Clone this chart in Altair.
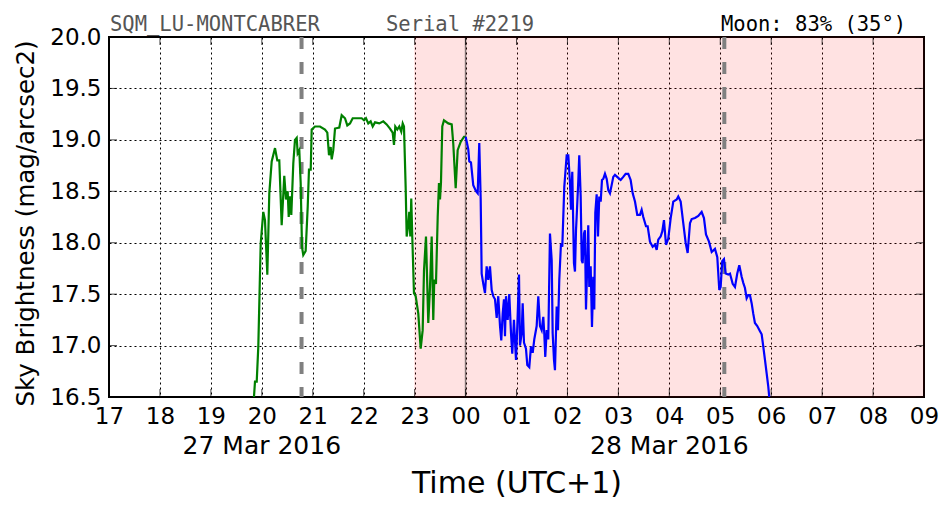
import altair as alt
import pandas as pd

# ---------------- data (hours after 17:00 on 27 Mar 2016, UTC+1) ----------------
hour_ticks = list(range(0, 17))
y_ticks = [16.5, 17.0, 17.5, 18.0, 18.5, 19.0, 19.5, 20.0]

green_h = [2.846, 2.866, 2.900, 2.931, 2.978, 3.029, 3.062, 3.108, 3.147, 3.194, 3.259, 3.304,
           3.343, 3.390, 3.441, 3.475, 3.508, 3.528, 3.553, 3.579, 3.618, 3.651, 3.685, 3.704,
           3.736, 3.763, 3.789, 3.814, 3.861, 3.901, 3.926, 3.960, 3.979, 4.044, 4.142, 4.240,
           4.286, 4.319, 4.352, 4.372, 4.403, 4.437, 4.521, 4.568, 4.633, 4.678, 4.731, 4.784,
           4.863, 4.961, 5.006, 5.045, 5.090, 5.137, 5.177, 5.222, 5.306, 5.385, 5.451, 5.516,
           5.569, 5.595, 5.620, 5.660, 5.699, 5.738, 5.766, 5.791, 5.824, 5.844, 5.876, 5.895,
           5.915, 5.934, 5.954, 5.987, 6.021, 6.072, 6.119, 6.158, 6.184, 6.223, 6.268, 6.302,
           6.335, 6.366, 6.386, 6.419, 6.453, 6.478, 6.498, 6.517, 6.543, 6.576, 6.661, 6.728,
           6.759, 6.806, 6.845, 6.904, 6.969, 7.002]
green_v = [16.50, 16.65, 16.65, 16.99, 17.99, 18.30, 18.22, 17.69, 18.48, 18.79, 18.92, 18.80,
           18.80, 18.17, 18.65, 18.42, 18.50, 18.25, 18.45, 18.27, 18.77, 19.00, 19.02, 18.87,
           18.90, 18.58, 17.96, 17.88, 17.92, 18.35, 18.71, 18.71, 19.10, 19.13, 19.13, 19.10,
           19.07, 18.85, 18.93, 18.81, 18.90, 19.11, 19.12, 19.24, 19.21, 19.14, 19.16, 19.21,
           19.21, 19.21, 19.19, 19.21, 19.16, 19.18, 19.13, 19.17, 19.16, 19.18, 19.15, 19.11,
           19.07, 18.95, 19.13, 19.10, 19.13, 19.08, 19.16, 19.13, 18.54, 18.06, 18.18, 18.30,
           18.06, 18.43, 18.06, 17.51, 17.48, 17.31, 16.97, 17.15, 17.73, 18.06, 17.22, 17.57,
           18.06, 17.25, 17.64, 17.60, 18.25, 18.58, 18.42, 18.58, 19.13, 19.19, 19.16, 19.15,
           18.96, 18.53, 18.90, 18.98, 19.03, 19.03]

blue_h = [7.002, 7.053, 7.073, 7.106, 7.151, 7.205, 7.238, 7.269, 7.297, 7.316, 7.348, 7.381,
          7.414, 7.446, 7.479, 7.513, 7.544, 7.578, 7.611, 7.642, 7.676, 7.701, 7.729, 7.754,
          7.774, 7.794, 7.827, 7.858, 7.892, 7.917, 7.950, 7.990, 8.016, 8.049, 8.068, 8.102,
          8.121, 8.147, 8.186, 8.212, 8.251, 8.284, 8.318, 8.349, 8.396, 8.428, 8.461, 8.494,
          8.526, 8.545, 8.565, 8.593, 8.624, 8.657, 8.691, 8.710, 8.736, 8.755, 8.789, 8.814,
          8.840, 8.873, 8.899, 8.938, 8.985, 9.017, 9.050, 9.070, 9.095, 9.128, 9.148, 9.168,
          9.181, 9.213, 9.232, 9.260, 9.280, 9.299, 9.325, 9.344, 9.364, 9.390, 9.409, 9.429,
          9.456, 9.482, 9.507, 9.527, 9.547, 9.574, 9.600, 9.625, 9.653, 9.678, 9.704, 9.737,
          9.771, 9.802, 9.835, 9.868, 9.900, 9.933, 9.998, 10.045, 10.096, 10.143, 10.194,
          10.241, 10.281, 10.326, 10.371, 10.424, 10.457, 10.489, 10.542, 10.575, 10.620,
          10.673, 10.718, 10.752, 10.783, 10.830, 10.862, 10.895, 10.935, 10.980, 11.027,
          11.078, 11.145, 11.176, 11.223, 11.274, 11.321, 11.360, 11.406, 11.439, 11.504,
          11.569, 11.635, 11.680, 11.720, 11.779, 11.832, 11.896, 11.942, 11.981, 12.008,
          12.039, 12.073, 12.106, 12.157, 12.191, 12.244, 12.289, 12.334, 12.374, 12.420,
          12.452, 12.485, 12.518, 12.549, 12.583, 12.617, 12.648, 12.681, 12.727, 12.780,
          12.813, 12.845, 12.878, 12.911, 12.943, 12.962]
blue_v = [19.03, 18.91, 18.79, 18.78, 18.56, 18.50, 18.48, 18.97, 18.42, 17.70, 17.60, 17.51,
          17.77, 17.64, 17.77, 17.54, 17.48, 17.45, 17.27, 17.48, 17.19, 17.05, 17.31, 17.45,
          17.09, 17.48, 17.25, 17.50, 17.12, 16.92, 17.25, 16.86, 17.19, 17.69, 17.00, 17.12,
          17.41, 17.03, 16.97, 16.81, 16.79, 16.99, 16.93, 17.06, 17.19, 17.48, 17.19, 17.15,
          17.28, 17.12, 16.89, 17.15, 17.06, 18.09, 17.83, 17.12, 16.86, 16.76, 17.38, 17.15,
          17.64, 17.99, 17.96, 18.54, 18.85, 18.85, 18.58, 18.32, 18.69, 17.80, 17.72, 18.12,
          18.25, 18.60, 18.85, 18.45, 17.83, 17.80, 18.09, 18.12, 17.35, 17.80, 18.17, 17.57,
          17.77, 17.18, 17.67, 17.35, 18.29, 18.47, 18.06, 18.45, 18.40, 18.61, 18.62, 18.67,
          18.62, 18.51, 18.48, 18.56, 18.64, 18.66, 18.63, 18.61, 18.64, 18.67, 18.67,
          18.61, 18.48, 18.40, 18.27, 18.27, 18.32, 18.25, 18.16, 18.16, 18.01,
          17.96, 17.98, 17.93, 18.03, 18.06, 18.11, 18.22, 17.98, 18.04, 18.24,
          18.40, 18.42, 18.45, 18.40, 18.19, 18.00, 17.90, 18.19, 18.23, 18.24,
          18.26, 18.30, 18.24, 18.08, 18.01, 17.91, 17.94, 17.86, 17.54, 17.57,
          17.82, 17.84, 17.70, 17.69, 17.70, 17.60, 17.57, 17.70, 17.78, 17.67,
          17.61, 17.56, 17.46, 17.49, 17.49, 17.41, 17.31, 17.22, 17.19, 17.14,
          17.11, 16.99, 16.86, 16.73, 16.60, 16.50]

night_start = [6.0]
night_end = [16.0]
dashed_h = [3.78, 12.08]
midnight_h = [7.0]
date_h = [3, 11]
date_text = ["27 Mar 2016", "28 Mar 2016"]
station_text = "SQM_LU-MONTCABRER"
serial_text = "Serial #2219"
moon_text = "Moon: 83% (35°)"

# ---------------- chart ----------------
W, H = 815, 360
FONT = "DejaVu Sans"
MONO = "DejaVu Sans Mono"

green_df = pd.DataFrame({"h": green_h, "v": green_v})
blue_df = pd.DataFrame({"h": blue_h, "v": blue_v})
night_df = pd.DataFrame({"h": night_start, "h2": night_end})
dash_df = pd.DataFrame({"h": dashed_h})
mid_df = pd.DataFrame({"h": midnight_h})
date_df = pd.DataFrame({"h": date_h, "t": date_text})
xt_df = pd.DataFrame({"h": hour_ticks})
yt_df = pd.DataFrame({"v": y_ticks})

xscale = alt.Scale(domain=[0, 16], nice=False, zero=False)
yscale = alt.Scale(domain=[16.5, 20.0], nice=False, zero=False)

x_axis = alt.Axis(
    values=hour_ticks,
    labelExpr="((datum.value + 17) % 24) < 10 ? '0' + ((datum.value + 17) % 24) : '' + ((datum.value + 17) % 24)",
    labelFont=FONT, labelFontSize=23, labelColor="black", labelPadding=8,
    labelFlush=False, labelOverlap=False,
    ticks=False, domain=False,
    grid=True, gridColor="black", gridDash=[2, 3], gridWidth=1, gridOpacity=1,
    title="Time (UTC+1)", titleFont=FONT, titleFontSize=30, titleFontWeight="normal",
    titleColor="black", titleBaseline="alphabetic", titleY=95, titleX=W / 2,
)
y_axis = alt.Axis(
    values=y_ticks, format=".1f",
    labelFont=FONT, labelFontSize=23, labelColor="black", labelPadding=8,
    labelFlush=False, labelOverlap=False,
    ticks=False, domain=False,
    grid=True, gridColor="black", gridDash=[2, 3], gridWidth=1, gridOpacity=1,
    title="Sky Brightness (mag/arcsec2)", titleFont=FONT, titleFontSize=24.5,
    titleFontWeight="normal", titleColor="black", titleBaseline="alphabetic",
    titleAlign="center", titleAngle=-90, titleX=-76, titleY=186,
)

X = lambda f: alt.X(f, type="quantitative", scale=xscale, axis=x_axis)
Y = lambda f: alt.Y(f, type="quantitative", scale=yscale, axis=y_axis)

night = alt.Chart(night_df).mark_rect(
    fill="#ff0000", opacity=0.11, stroke="#ff0000", strokeWidth=1
).encode(x=X("h"), x2="h2")
dashed = alt.Chart(dash_df).mark_rule(color="#808080", strokeWidth=4, strokeDash=[12, 13]).encode(
    x=X("h")
)
midnight = alt.Chart(mid_df).mark_rule(color="black", opacity=0.5, strokeWidth=1.5).encode(
    x=X("h")
)
green = alt.Chart(green_df).mark_line(color="#008000", strokeWidth=2.2, clip=True).encode(
    x=X("h"), y=Y("v")
)
blue = alt.Chart(blue_df).mark_line(color="#0000ff", strokeWidth=2.2, clip=True).encode(
    x=X("h"), y=Y("v")
)
dates = alt.Chart(date_df).mark_text(
    font=FONT, fontSize=25, color="black", align="center", baseline="alphabetic"
).encode(x=X("h"), y=alt.value(417), text="t:N")

# inward tick marks on all four sides
TL = 8
xt_bottom = alt.Chart(xt_df).mark_tick(color="black", size=TL * 2, thickness=1, clip=True).encode(
    x=X("h"), y=alt.value(H)
)
xt_top = alt.Chart(xt_df).mark_tick(color="black", size=TL * 2, thickness=1, clip=True).encode(
    x=X("h"), y=alt.value(0)
)
yt_left = alt.Chart(yt_df).mark_tick(color="black", size=TL * 2, thickness=1, clip=True).encode(
    y=Y("v"), x=alt.value(0)
)
yt_right = alt.Chart(yt_df).mark_tick(color="black", size=TL * 2, thickness=1, clip=True).encode(
    y=Y("v"), x=alt.value(W)
)

def top_text(txt, xpos, color):
    return alt.Chart(pd.DataFrame({"t": [txt]})).mark_text(
        font=MONO, fontSize=20.5, color=color, align="left", baseline="alphabetic"
    ).encode(x=alt.value(xpos), y=alt.value(-6.5), text="t:N")

chart = alt.layer(
    night, dashed, midnight, green, blue,
    xt_bottom, xt_top, yt_left, yt_right,
    dates,
    top_text(station_text, 1, "#555555"),
    top_text(serial_text, 277, "#555555"),
    top_text(moon_text, 612, "black"),
).properties(
    width=W, height=H,
    autosize=alt.AutoSizeParams(type="none"),
    padding={"left": 109, "top": 37, "right": 28, "bottom": 115},
    background="white",
).configure_view(stroke="black", strokeWidth=2)

chart.save("out.html", embed_options={"renderer": "svg", "actions": False})
